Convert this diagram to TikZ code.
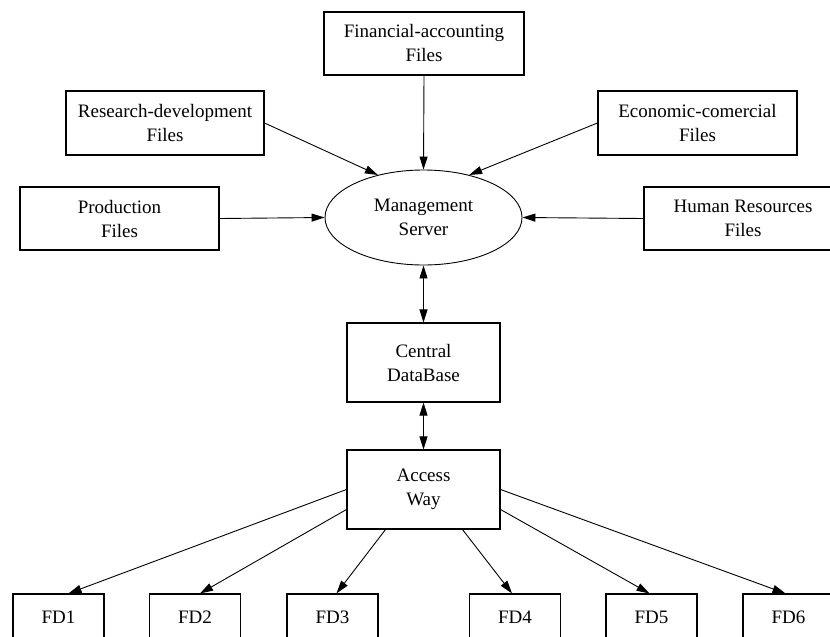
\documentclass[tikz,border=0pt]{standalone}
\usepackage{fontspec}
\setmainfont{Liberation Serif}
\usetikzlibrary{arrows.meta,shapes.geometric,calc}

\tikzset{
  filebox/.style={draw=black, line width=1.1pt, fill=white, inner sep=0pt,
    align=center, font=\fontsize{19}{24}\selectfont},
  fdbox/.style={filebox, minimum width=91pt, minimum height=46pt},
  serverellipse/.style={draw=black, line width=0.9pt, ellipse, inner sep=0pt,
    minimum width=197pt, minimum height=95pt, align=center,
    font=\fontsize{19}{24}\selectfont},
  tip/.style={Triangle[length=13pt,width=8pt]},
  link/.style={draw=black, line width=0.9pt, -{Triangle[length=13pt,width=8pt]}},
  duallink/.style={draw=black, line width=0.9pt,
    {Triangle[length=13pt,width=8pt]}-{Triangle[length=13pt,width=8pt]}}
}

\begin{document}
\begin{tikzpicture}[x=1pt, y=-1pt]
  \useasboundingbox (0,0) rectangle (830,637);
  \fill[white] (0,0) rectangle (830,637);
  \clip (0,0) rectangle (830,637);

  % source files around the server
  \node[filebox, minimum width=200pt, minimum height=63pt] (fa) at (424,43.5)
    {Financial-accounting\\Files};
  \node[filebox, minimum width=198pt, minimum height=64pt] (rd) at (165,123)
    {Research-development\\Files};
  \node[filebox, minimum width=199pt, minimum height=64pt] (ec) at (697.5,123)
    {Economic-comercial\\Files};
  \node[filebox, minimum width=199pt, minimum height=63pt] (pf) at (119.5,218.5)
    {Production\\Files};
  \node[filebox, minimum width=198pt, minimum height=63pt] (hr) at (743,218.5)
    {Human Resources\\Files};

  % server, database and access layer
  \node[serverellipse] (ms) at (423.5,217.5) {Management\\Server};
  \node[filebox, minimum width=153pt, minimum height=79pt] (cd) at (423.5,362.5)
    {Central\\DataBase};
  \node[filebox, minimum width=153pt, minimum height=79pt] (aw) at (423.5,489.5)
    {Access\\Way};

  % distributed databases
  \node[fdbox] (fd1) at (58.5,617) {FD1};
  \node[fdbox] (fd2) at (195,617) {FD2};
  \node[fdbox] (fd3) at (332.5,617) {FD3};
  \node[fdbox] (fd4) at (515,617) {FD4};
  \node[fdbox] (fd5) at (651.5,617) {FD5};
  \node[fdbox] (fd6) at (788.5,617) {FD6};

  % files feeding the server
  \draw[link] (fa.south) -- (ms.north);
  \draw[link] (rd.east) -- (ms.137);
  \draw[link] (ec.west) -- (ms.43);
  \draw[link] (pf.east) -- (ms.west);
  \draw[link] (hr.west) -- (ms.east);

  % server <-> database <-> access way
  \draw[duallink] (ms.south) -- (cd.north);
  \draw[duallink] (cd.south) -- (aw.north);

  % access way to the distributed databases
  \draw[link] (aw.west) -- ($(fd1.north)+(10,0)$);
  \draw[link] ($(aw.west)+(0,20)$) -- ($(fd2.north)+(5,0)$);
  \draw[link] ($(aw.south)+(-38,0)$) -- ($(fd3.north)+(4,0)$);
  \draw[link] ($(aw.south)+(39,0)$) -- ($(fd4.north)+(-3,0)$);
  \draw[link] ($(aw.east)+(0,20)$) -- ($(fd5.north)+(-2,0)$);
  \draw[link] (aw.east) -- ($(fd6.north)+(-3,0)$);
\end{tikzpicture}
\end{document}
